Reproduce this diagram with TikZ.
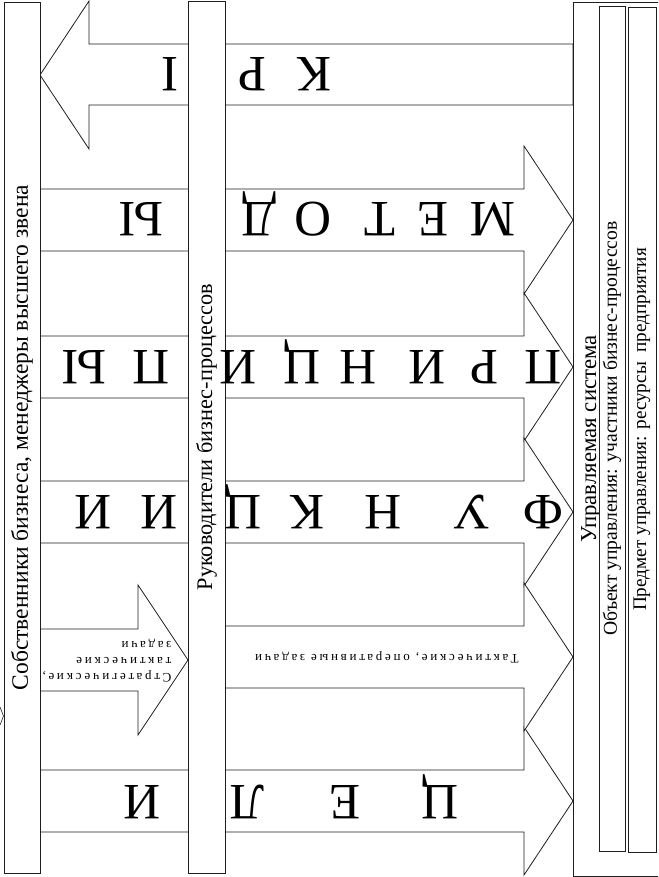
\documentclass[tikz,border=0pt]{standalone}
\usepackage{fontspec}
\setmainfont{Liberation Serif}
\usepackage{tikz}
\usetikzlibrary{calc}
\definecolor{schemeline}{HTML}{1E1E1E}
\definecolor{schemegray}{HTML}{6A6A6A}

\begin{document}
\begin{tikzpicture}[
    x=1pt, y=-1pt,
    bar/.style={
      draw=schemeline,
      fill=white,
      rotate=90,
      inner sep=0pt,
      font=\fontsize{22.3}{22}\selectfont,
      line width=0.9pt
    },
    blockarrow/.style={
      draw=schemeline,
      fill=white,
      line width=0.8pt,
      line join=miter
    },
    bigletter/.style={
      rotate=180,
      anchor=base,
      inner sep=0pt,
      font=\fontsize{51}{51}\selectfont
    },
    smalltext/.style={
      rotate=180,
      inner sep=0pt,
      font=\fontsize{13}{16}\selectfont\addfontfeature{LetterSpace=21}
    }
  ]

  \useasboundingbox (0,0) rectangle (658,877);
  \clip (0,0) rectangle (658,877);

  \draw[blockarrow] (573,44) -- (89,44) -- (89,1) -- (40,75) -- (89,149) -- (89,105) -- (573,105) -- cycle;
  \foreach \cy in {220,367,512,801}
    \draw[blockarrow] (40,\cy-31) -- (524,\cy-31) -- (524,\cy-74) -- (573,\cy)
      -- (524,\cy+74) -- (524,\cy+31) -- (40,\cy+31) -- cycle;
  \draw[blockarrow] (225,626) -- (524,626) -- (524,583) -- (573,657) -- (524,731) -- (524,688) -- (225,688) -- cycle;
  \draw[blockarrow] (40,629) -- (138,629) -- (138,585) -- (188,660) -- (138,735) -- (138,691) -- (40,691) -- cycle;
  \draw[schemeline, line width=0.6pt] (0,707) -- (3.5,716) -- (0,725);

  \node[bar, minimum width=871pt, minimum height=36pt, font=\fontsize{23.5}{23}\selectfont] (owners) at (22,437.5) {Собственники бизнеса, менеджеры высшего звена};
  \node[bar, minimum width=872pt, minimum height=37pt] (heads) at (206.5,437) {Руководители бизнес-процессов};

  \node[draw=schemeline, line width=0.9pt, anchor=north west, inner sep=0pt,
    minimum width=120pt, minimum height=874pt] (system) at (573,2) {};
  \node[rotate=90, inner sep=0pt, font=\fontsize{22.8}{22}\selectfont] (systemlabel) at (591,439) {Управляемая система};
  \node[bar, minimum width=845pt, minimum height=26pt, font=\fontsize{19.6}{19}\selectfont] (object) at (612,428.5) {Объект управления: участники бизнес-процессов};
  \node[bar, minimum width=845pt, minimum height=28pt, font=\fontsize{19.2}{19}\selectfont] (subject) at (642,429.5) {Предмет управления: ресурсы\ \ предприятия};

  \foreach \ch/\px in {К/314, Р/252, I/170}
    \node[bigletter] (kpi\px) at (\px,58) {\ch};
  \foreach \ch/\px in {М/493, Е/433, Т/380, О/313, Д/259, Ы/141}
    \node[bigletter] (metody\px) at (\px,203) {\ch};
  \foreach \ch/\px in {П/543, Р/484, И/427, Н/358, Ц/302, И/238, П/151, Ы/84}
    \node[bigletter] (princ\px) at (\px,350) {\ch};
  \foreach \ch/\px in {Ф/543, У/472, Н/383, К/307, Ц/243, И/159, И/93}
    \node[bigletter] (func\px) at (\px,495) {\ch};
  \foreach \ch/\px in {Ц/440, Е/345, Л/247, И/142}
    \node[bigletter] (celi\px) at (\px,785) {\ch};

  \node[smalltext, align=left] (strategic) at (107,661) {Стратегические,\\тактические\\задачи};
  \node[smalltext] (tactical) at (387,657) {Тактические, оперативные задачи};

\end{tikzpicture}
\end{document}
